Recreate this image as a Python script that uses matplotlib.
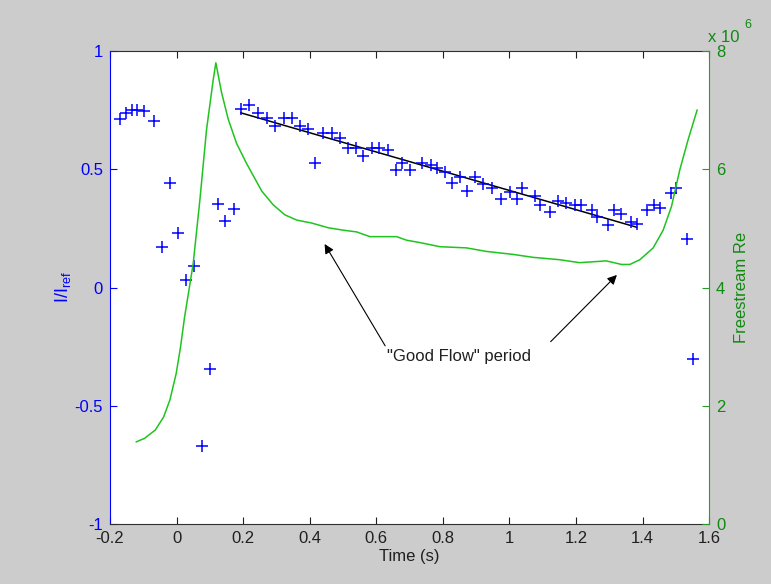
import numpy as np
import matplotlib
matplotlib.use("Agg")
import matplotlib.pyplot as plt

plt.rcParams['font.family'] = ['Liberation Sans', 'DejaVu Sans']

# measured intensity ratio I/I_ref
time_pts = [-0.170, -0.153, -0.135, -0.118, -0.098, -0.067, -0.045, -0.020, 0.005,
            0.027, 0.051, 0.075, 0.1015, 0.125, 0.145, 0.172,
            0.193, 0.218, 0.245, 0.271, 0.295, 0.323, 0.346, 0.371, 0.396, 0.416,
            0.441, 0.466, 0.491, 0.516, 0.539, 0.561, 0.586, 0.608, 0.634, 0.658,
            0.676, 0.701, 0.736, 0.764, 0.781, 0.806, 0.828, 0.851, 0.874, 0.896,
            0.921, 0.948, 0.974, 1.001, 1.024, 1.039, 1.076, 1.093, 1.121, 1.146,
            1.171, 1.196, 1.214, 1.247, 1.262, 1.296, 1.314, 1.334, 1.364, 1.382,
            1.414, 1.435, 1.452, 1.485, 1.502, 1.535, 1.551]
ratio_pts = [0.712, 0.737, 0.751, 0.751, 0.748, 0.704, 0.173, 0.443, 0.229,
             0.032, 0.092, -0.669, -0.346, 0.352, 0.283, 0.332,
             0.755, 0.772, 0.737, 0.718, 0.684, 0.718, 0.718, 0.684, 0.670, 0.525,
             0.652, 0.652, 0.631, 0.591, 0.591, 0.557, 0.591, 0.591, 0.581, 0.497,
             0.527, 0.497, 0.525, 0.518, 0.504, 0.490, 0.441, 0.466, 0.409, 0.466,
             0.438, 0.419, 0.373, 0.405, 0.373, 0.422, 0.387, 0.349, 0.321, 0.367,
             0.356, 0.349, 0.349, 0.328, 0.299, 0.264, 0.328, 0.311, 0.278, 0.268,
             0.328, 0.349, 0.335, 0.398, 0.419, 0.204, -0.302]

# "good flow" window used for the linear fit
good_start, good_end = 0.19, 1.39

# freestream Reynolds number (x 10^6)
re_time = [-0.121, -0.096, -0.064, -0.039, -0.020, -0.001, 0.012, 0.024, 0.037,
           0.050, 0.070, 0.090, 0.110, 0.118, 0.135, 0.155, 0.18, 0.21, 0.256,
           0.29, 0.325, 0.361, 0.406, 0.456, 0.50, 0.541, 0.581, 0.661, 0.691,
           0.731, 0.791, 0.871, 0.931, 1.011, 1.071, 1.151, 1.211, 1.291, 1.337,
           1.362, 1.392, 1.432, 1.462, 1.487, 1.512, 1.537, 1.564]
re_vals = [1.39, 1.45, 1.59, 1.81, 2.10, 2.55, 3.00, 3.50, 3.95,
           4.41, 5.48, 6.67, 7.51, 7.80, 7.30, 6.85, 6.44, 6.10, 5.63,
           5.40, 5.23, 5.14, 5.09, 5.01, 4.97, 4.94, 4.86, 4.86, 4.80,
           4.76, 4.69, 4.67, 4.61, 4.56, 4.51, 4.47, 4.42, 4.45, 4.39,
           4.39, 4.47, 4.67, 4.97, 5.37, 5.99, 6.50, 7.00]

x_ticks = [-0.2, 0, 0.2, 0.4, 0.6, 0.8, 1, 1.2, 1.4, 1.6]
x_labels = ['-0.2', '0', '0.2', '0.4', '0.6', '0.8', '1', '1.2', '1.4', '1.6']
left_ticks = [-1, -0.5, 0, 0.5, 1]
left_labels = ['-1', '-0.5', '0', '0.5', '1']
right_ticks = [0, 2, 4, 6, 8]

blue = '#0000ff'
green_line = '#1fc41f'
green_axis = '#2a9a2a'
green_text = '#108a10'
fs = 12

fig = plt.figure(figsize=(7.71, 5.84), dpi=100, facecolor='#cccccc')
ax = fig.add_axes([0.1427, 0.1027, 0.777, 0.81])
ax.set_facecolor('white')

t = np.array(time_pts)
r = np.array(ratio_pts)
ax.plot(t, r, '+', color=blue, ms=8.5, mew=1.1, zorder=3)

sel = (t > good_start) & (t < good_end)
coef = np.polyfit(t[sel], r[sel], 1)
fit_t = np.array([t[sel].min(), t[sel].max()])
ax.plot(fit_t, np.polyval(coef, fit_t), color='black', lw=1.1, zorder=2)

ax.set_xlim(-0.2, 1.6)
ax.set_ylim(-1, 1)
ax.set_xticks(x_ticks)
ax.set_xticklabels(x_labels)
ax.set_yticks(left_ticks)
ax.set_yticklabels(left_labels)
ax.tick_params(axis='x', direction='in', length=5, top=True, labelsize=fs,
               colors='#202020', pad=5)
ax.tick_params(axis='y', direction='in', length=5, labelsize=fs,
               colors=blue, right=False, pad=5)
ax.spines['left'].set_color(blue)
ax.spines['top'].set_color('#303030')
ax.spines['bottom'].set_color('#303030')
ax.spines['right'].set_visible(False)
ax.set_xlabel('Time (s)', fontsize=fs, color='#202020', labelpad=2)
ax.set_ylabel('I/I$_{\\mathregular{ref}}$', fontsize=fs + 1, color=blue, labelpad=1)

ax.annotate('"Good Flow" period', xy=(0.4405, 0.194), xytext=(0.848, -0.29),
            ha='center', va='center', fontsize=fs, color='#202020',
            arrowprops=dict(arrowstyle='-|>', color='black', lw=0.8,
                            mutation_scale=14, shrinkA=0,
                            relpos=(0.0, 1.0)))
ax.annotate('', xy=(1.323, 0.053), xytext=(1.124, -0.229),
            arrowprops=dict(arrowstyle='-|>', color='black', lw=0.8,
                            mutation_scale=14, shrinkA=0, shrinkB=0))

ax2 = ax.twinx()
ax2.plot(re_time, re_vals, color=green_line, lw=1.1)
ax2.set_ylim(0, 8)
ax2.set_yticks(right_ticks)
ax2.tick_params(axis='y', direction='in', length=5, labelsize=fs,
                colors=green_axis, labelcolor=green_text, pad=5)
for s in ['left', 'top', 'bottom']:
    ax2.spines[s].set_visible(False)
ax2.spines['right'].set_color(green_axis)
ax2.set_ylabel('Freestream Re', fontsize=fs, color=green_text, labelpad=6)

fig.text(0.918, 0.928, 'x 10', fontsize=fs, color=green_text, ha='left', va='baseline')
fig.text(0.966, 0.952, '6', fontsize=9, color=green_text, ha='left', va='baseline')

fig.savefig('out.png', dpi=100, facecolor=fig.get_facecolor())
